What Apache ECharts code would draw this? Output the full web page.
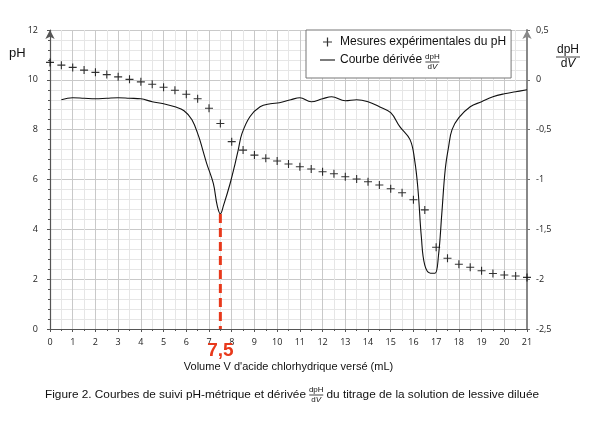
<!DOCTYPE html>
<html>
<head>
<meta charset="utf-8">
<script src="https://cdn.jsdelivr.net/npm/echarts@6/dist/echarts.min.js"></script>
<style>
html,body{margin:0;padding:0;background:#fff;}
#c{width:601px;height:427px;}
</style>
</head>
<body>
<div id="c"></div>
<script>
// ---- data ----
const volumes = [0,0.5,1,1.5,2,2.5,3,3.5,4,4.5,5,5.5,6,6.5,7,7.5,8,8.5,9,9.5,10,10.5,11,11.5,12,12.5,13,13.5,14,14.5,15,15.5,16,16.5,17,17.5,18,18.5,19,19.5,20,20.5,21];
const pHValues = [10.70,10.59,10.50,10.39,10.30,10.21,10.12,10.02,9.92,9.82,9.70,9.58,9.42,9.24,8.86,8.25,7.52,7.18,6.98,6.85,6.74,6.62,6.51,6.42,6.31,6.23,6.11,6.02,5.91,5.78,5.63,5.47,5.19,4.78,3.28,2.84,2.60,2.48,2.34,2.23,2.17,2.13,2.07];
const derivV = [0.5,1,1.5,2,2.5,3,3.5,4,4.5,5,5.5,5.9,6.25,6.55,6.72,6.9,7.19,7.36,7.5,7.64,7.93,8.15,8.29,8.45,8.8,9.25,9.7,10.1,10.6,11,11.5,12,12.4,13,13.5,14,14.5,15,15.4,15.85,16.05,16.2,16.35,16.5,16.75,16.95,17.1,17.25,17.4,17.55,17.7,18,18.5,19,19.5,20,20.5,21];
const derivValues = [-0.20,-0.18,-0.185,-0.19,-0.185,-0.18,-0.185,-0.19,-0.22,-0.24,-0.27,-0.31,-0.40,-0.57,-0.70,-0.84,-1.04,-1.26,-1.345,-1.26,-1.04,-0.84,-0.70,-0.54,-0.37,-0.27,-0.24,-0.23,-0.20,-0.18,-0.22,-0.19,-0.17,-0.21,-0.20,-0.22,-0.27,-0.33,-0.47,-0.60,-0.80,-1.10,-1.58,-1.86,-1.94,-1.94,-1.77,-1.34,-0.90,-0.67,-0.50,-0.38,-0.27,-0.22,-0.17,-0.14,-0.12,-0.10];
const equivVolume = 7.5;
const equivLabel = '7,5';
const leftTicks = {min:0, max:12, interval:2};
const rightTicks = {min:-2.5, max:0.5, interval:0.5};
const xTicks = {min:0, max:21, interval:1};
const seriesNames = ['Mesures expérimentales du pH', 'Courbe dérivée'];
const xName = "Volume V d'acide chlorhydrique versé (mL)";
const captionA = 'Figure 2. Courbes de suivi pH-métrique et dérivée ';
const captionB = ' du titrage de la solution de lessive diluée';

// ---- build ----
const pHData = volumes.map((v,i)=>[v,pHValues[i]]);
const derivData = derivV.map((v,i)=>[v,derivValues[i]]);
const eqIdx = derivV.indexOf(equivVolume);
const dashData = [[equivVolume, derivValues[eqIdx]],[equivVolume, rightTicks.min]];

const plusPath = 'path://M3.45,0 L4.55,0 L4.55,3.45 L8,3.45 L8,4.55 L4.55,4.55 L4.55,8 L3.45,8 L3.45,4.55 L0,4.55 L0,3.45 L3.45,3.45 Z';
const linePath = 'path://M0,0 L15,0 L15,1.1 L0,1.1 Z';
const FONT = 'Liberation Sans';
const TICKFONT = 'Open Sans';

const chart = echarts.init(document.getElementById('c'), null, {renderer:'canvas'});

function measure(txt, font){
  const cv = document.createElement('canvas').getContext('2d');
  cv.font = font;
  return cv.measureText(txt).width;
}
function frac(x, yLine, size, width, color){
  const w = width;
  return {
    type:'group', x:x, y:yLine, z:100,
    children:[
      {type:'text', z:100, style:{text:'dpH', x:w/2, y:-1, align:'center', verticalAlign:'bottom', fontSize:size, fontFamily:FONT, fill:color}},
      {type:'line', z:100, shape:{x1:0,y1:0,x2:w,y2:0}, style:{stroke:color, lineWidth:0.8}},
      {type:'text', z:100, style:{rich:{a:{fontSize:size,fontFamily:FONT,fill:color},b:{fontSize:size,fontFamily:FONT,fontStyle:'italic',fill:color}}, text:'{a|d}{b|V}', x:w/2, y:1, align:'center', verticalAlign:'top'}}
    ]
  };
}

const capSize = 11.8;
const capFont = capSize + 'px ' + FONT;
const capX = 45, capY = 395;
const wA = measure(captionA, capFont);
const fracW = 14;

const legendTextX = 306 + 14 + 15 + 5;
const wLeg = measure('Courbe dérivée ', '12px ' + FONT);

const option = {
  animation:false,
  backgroundColor:'#fff',
  grid:{left:50, right:74, top:30, bottom:98},
  legend:{
    data:[{name:seriesNames[0], icon:plusPath},{name:seriesNames[1], icon:linePath}],
    orient:'vertical', left:306, top:30,
    padding:[6, 5, 12, 14], itemGap:6, itemWidth:15, itemHeight:9,
    backgroundColor:'#fff', borderColor:'#777', borderWidth:1,
    textStyle:{fontFamily:FONT, fontSize:12, color:'#111'}
  },
  xAxis:{
    type:'value', min:xTicks.min, max:xTicks.max, interval:xTicks.interval,
    name:xName, nameLocation:'middle', nameGap:32,
    nameTextStyle:{fontFamily:FONT, fontSize:11, color:'#111'},
    axisLine:{onZero:false, lineStyle:{color:'#555', width:1.2}},
    axisTick:{length:3, lineStyle:{color:'#555'}},
    minorTick:{show:true, splitNumber:2, length:2, lineStyle:{color:'#555'}},
    axisLabel:{fontFamily:TICKFONT, fontSize:9, color:'#222', margin:9},
    splitLine:{show:true, lineStyle:{color:'#c9c9c9', width:1}},
    minorSplitLine:{show:true, lineStyle:{color:'#e6e6e6', width:1}}
  },
  yAxis:[{
    type:'value', min:leftTicks.min, max:leftTicks.max, interval:leftTicks.interval,
    axisLine:{show:true, symbol:['none','arrow'], symbolSize:[7,9], lineStyle:{color:'#555', width:1.2}},
    axisTick:{show:true, length:3, lineStyle:{color:'#555'}},
    minorTick:{show:true, splitNumber:5, length:2, lineStyle:{color:'#555'}},
    axisLabel:{fontFamily:TICKFONT, fontSize:9, color:'#222', margin:12},
    splitLine:{show:true, lineStyle:{color:'#c9c9c9', width:1}},
    minorSplitLine:{show:true, lineStyle:{color:'#e6e6e6', width:1}}
  },{
    type:'value', position:'right', min:rightTicks.min, max:rightTicks.max, interval:rightTicks.interval,
    axisLine:{show:true, symbol:['none','arrow'], symbolSize:[7,9], lineStyle:{color:'#888', width:2}},
    axisTick:{show:true, length:3, lineStyle:{color:'#777'}},
    minorTick:{show:false},
    axisLabel:{fontFamily:TICKFONT, fontSize:9, color:'#222', margin:9,
      formatter:function(v){ return String(v).replace('.', ','); }},
    splitLine:{show:false}
  }],
  series:[
    {name:seriesNames[0], type:'scatter', data:pHData, symbol:plusPath, symbolSize:8,
     itemStyle:{color:'#000'}, z:5},
    {name:seriesNames[1], type:'line', yAxisIndex:1, data:derivData, smooth:0.4, symbol:'none',
     lineStyle:{color:'#111', width:1.1}, itemStyle:{color:'#111'}, z:4},
    {name:'equiv', type:'line', yAxisIndex:1, data:dashData, symbol:'none',
     lineStyle:{color:'#e8391b', width:3, type:[9,5]}, z:6,
     label:{show:false},
     markPoint:{symbol:'circle', symbolSize:0, data:[{coord:dashData[1]}],
       label:{show:true, formatter:equivLabel, position:'bottom', distance:12,
         fontFamily:FONT, fontWeight:'bold', fontSize:19, color:'#e8391b'}}}
  ],
  graphic:[
    {type:'text', left:9, top:47, style:{text:'pH', fontFamily:FONT, fontSize:13, fill:'#111'}},
    frac(556, 57, 12, 24, '#111'),
    frac(legendTextX + wLeg, 62, 8, fracW, '#111'),
    {type:'text', x:capX, y:capY, style:{text:captionA, fontFamily:FONT, fontSize:capSize, fill:'#111', verticalAlign:'middle'}},
    frac(capX + wA, capY, 8, fracW, '#111'),
    {type:'text', x:capX + wA + fracW, y:capY, style:{text:captionB, fontFamily:FONT, fontSize:capSize, fill:'#111', verticalAlign:'middle'}}
  ]
};
chart.setOption(option);
</script>
</body>
</html>
